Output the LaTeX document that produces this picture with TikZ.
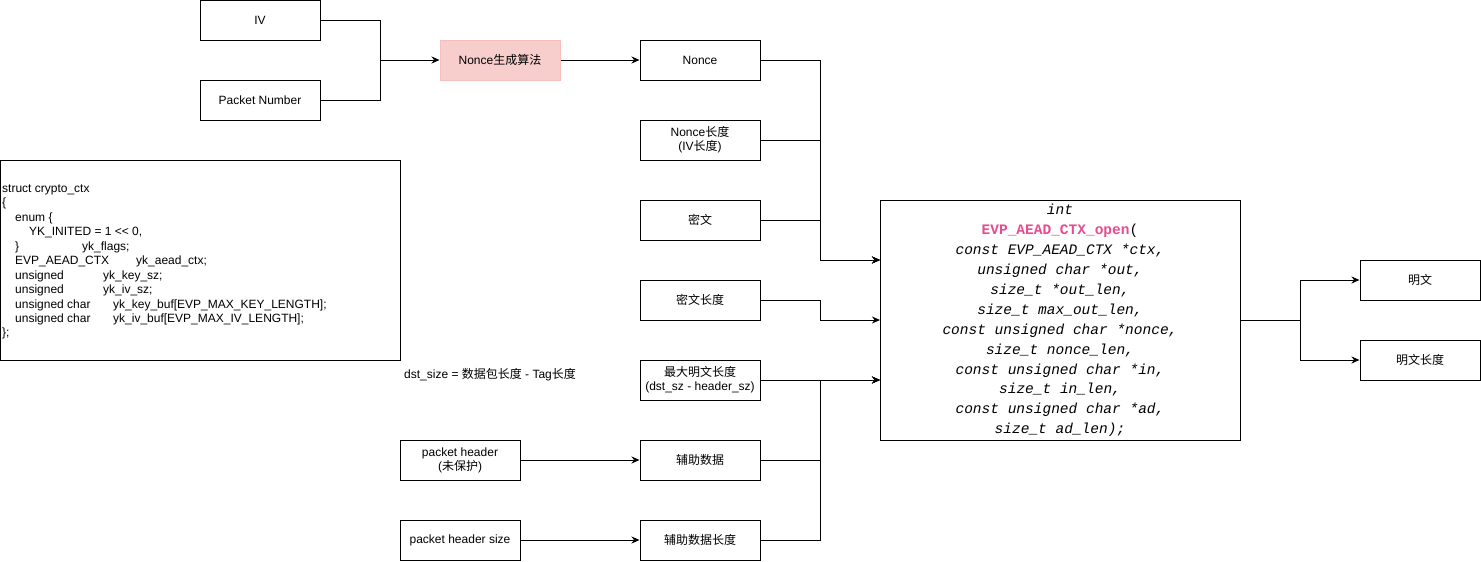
\documentclass[tikz,border=0pt]{standalone}
\usepackage{fontspec}
\setmainfont{Liberation Sans}
\setmonofont{Liberation Mono}
\newfontfamily\cjk{Noto Sans CJK SC}
\usetikzlibrary{arrows.meta}
\definecolor{pinkfill}{HTML}{F8CECC}
\definecolor{pinkline}{HTML}{F3C0BE}
\definecolor{fnpink}{HTML}{E64C8F}
\begin{document}
\begin{tikzpicture}[x=1pt,y=-1pt,
  box/.style={draw=black, line width=1pt, minimum width=120pt, minimum height=40pt,
    inner sep=0pt, align=center, font=\fontsize{12}{14}\selectfont},
  genbox/.style={box, draw=pinkline, fill=pinkfill},
  conn/.style={line width=1pt},
  arr/.style={line width=1pt, -{Stealth[length=8pt,width=7pt]}},
  structtext/.style={inner sep=0pt, align=left, font=\fontsize{12}{14.45}\selectfont},
  functext/.style={inner sep=0pt, align=center, font=\fontsize{14.5}{19.9}\selectfont\ttfamily\itshape},
]
\useasboundingbox (0,0) rectangle (1481,562);

% top-left inputs
\node[box] (iv) at (260,20) {IV};
\node[box] (pn) at (260,100) {Packet Number};
\node[genbox] (gen) at (500,60) {Nonce{\cjk 生成算法}};
\coordinate (j1) at (380,60);

% column of parameters
\node[box] (nonce) at (700,60) {Nonce};
\node[box] (nlen) at (700,140) {Nonce{\cjk 长度}\\(IV{\cjk 长度})};
\node[box] (ct) at (700,220) {{\cjk 密文}};
\node[box] (ctlen) at (700,300) {{\cjk 密文长度}};
\node[box] (maxpt) at (700,380) {{\cjk 最大明文长度}\\(dst\_sz - header\_sz)};
\node[box] (ad) at (700,460) {{\cjk 辅助数据}};
\node[box] (adlen) at (700,540) {{\cjk 辅助数据长度}};

% packet header sources
\node[box] (ph) at (460,460) {packet header\\({\cjk 未保护})};
\node[box] (phs) at (460,540) {packet header size};

% struct box
\node[draw=black, line width=1pt, minimum width=400pt, minimum height=200pt, inner sep=0pt] (ctx) at (200,260) {};
\node[structtext, anchor=north west] (ctxtext) at (2,184.5) {%
struct crypto\_ctx\\
\{\\
\hspace*{13pt}enum \{\\
\hspace*{27pt}YK\_INITED = 1 <{}< 0,\\
\hspace*{13pt}\makebox[67pt][l]{\}}yk\_flags;\\
\hspace*{13pt}\makebox[121pt][l]{EVP\_AEAD\_CTX}yk\_aead\_ctx;\\
\hspace*{13pt}\makebox[88pt][l]{unsigned}yk\_key\_sz;\\
\hspace*{13pt}\makebox[88pt][l]{unsigned}yk\_iv\_sz;\\
\hspace*{13pt}\makebox[98pt][l]{unsigned char}yk\_key\_buf[EVP\_MAX\_KEY\_LENGTH];\\
\hspace*{13pt}\makebox[98pt][l]{unsigned char}yk\_iv\_buf[EVP\_MAX\_IV\_LENGTH];\\
\};};

% dst_size note
\node[inner sep=0pt, anchor=west, font=\fontsize{12}{14}\selectfont] (dst) at (404,375) {dst\_size = {\cjk 数据包长度} - Tag{\cjk 长度}};

% function box
\node[draw=black, line width=1pt, minimum width=360pt, minimum height=240pt, inner sep=0pt] (fn) at (1060,320) {};
\node[functext] (fntext) at (1060,320.5) {%
int\\
{\upshape\bfseries\color{fnpink}EVP\_AEAD\_CTX\_open}{\upshape(}\\
const EVP\_AEAD\_CTX *ctx,\\
unsigned char *out,\\
size\_t *out\_len,\\
size\_t max\_out\_len,\\
const unsigned char *nonce,\\
size\_t nonce\_len,\\
const unsigned char *in,\\
size\_t in\_len,\\
const unsigned char *ad,\\
size\_t ad\_len);};

% outputs
\node[box] (pt) at (1420,280) {{\cjk 明文}};
\node[box] (ptlen) at (1420,360) {{\cjk 明文长度}};

% bus coordinates
\coordinate (in1) at (880,260);
\coordinate (in2) at (880,320);
\coordinate (in3) at (880,380);
\coordinate (b1) at (820,260);
\coordinate (b2) at (820,320);
\coordinate (b3) at (820,380);
\coordinate (b4) at (1300,320);

% connectors
\draw[conn] (iv.east) -| (j1);
\draw[conn] (pn.east) -| (j1);
\draw[arr] (j1) -- (gen.west);
\draw[arr] (gen.east) -- (nonce.west);
\draw[arr] (ph.east) -- (ad.west);
\draw[arr] (phs.east) -- (adlen.west);

\draw[arr] (nonce.east) -| (b1) -- (in1);
\draw[arr] (nlen.east) -| (b1) -- (in1);
\draw[arr] (ct.east) -| (b1) -- (in1);
\draw[arr] (ctlen.east) -| (b2) -- (in2);
\draw[arr] (maxpt.east) -- (in3);
\draw[arr] (ad.east) -| (b3) -- (in3);
\draw[arr] (adlen.east) -| (b3) -- (in3);

\draw[conn] (fn.east) -- (b4);
\draw[arr] (b4) |- (pt.west);
\draw[arr] (b4) |- (ptlen.west);
\end{tikzpicture}
\end{document}
